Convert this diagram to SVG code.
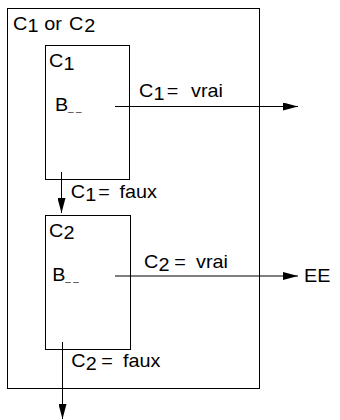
<svg xmlns="http://www.w3.org/2000/svg" width="340" height="420" viewBox="0 0 340 420">
<style>
.box{fill:none;stroke:#000;stroke-width:1}
.ln{stroke:#000;stroke-width:1;fill:none;marker-end:url(#ah)}
text{font-family:"Liberation Sans",Arial,Helvetica,sans-serif;font-size:18px;fill:#000}
.us{font-size:9px}
</style>
<defs>
<marker id="ah" markerUnits="userSpaceOnUse" markerWidth="15" markerHeight="8" refX="15" refY="4" orient="auto">
<path d="M0,0 L15,4 L0,8 Z" fill="#000"/>
</marker>
</defs>
<rect width="340" height="420" fill="#fff"/>
<g id="outer">
<rect class="box" x="7.5" y="8.5" width="252" height="380"/>
<text transform="scale(1.1,1)"><tspan x="11.82" y="30">C</tspan><tspan x="25" y="32.5">1</tspan><tspan x="40.18" y="30">or</tspan><tspan x="62.73" y="30">C</tspan><tspan x="76.5" y="32.5">2</tspan></text>
</g>
<g id="c1">
<rect class="box" x="45.5" y="45.5" width="84" height="134"/>
<text transform="scale(1.1,1)"><tspan x="44.55" y="67.5">C</tspan><tspan x="57.7" y="70">1</tspan></text>
<text transform="scale(1.1,1)"><tspan x="50" y="111">B</tspan><tspan class="us" x="61.8" y="111">_</tspan><tspan class="us" x="69.1" y="111">_</tspan></text>
</g>
<g id="c2">
<rect class="box" x="45.5" y="215.5" width="85" height="134"/>
<text transform="scale(1.1,1)"><tspan x="44.55" y="237">C</tspan><tspan x="57.7" y="239.5">2</tspan></text>
<text transform="scale(1.1,1)"><tspan x="47.5" y="281">B</tspan><tspan class="us" x="59.3" y="281">_</tspan><tspan class="us" x="66.6" y="281">_</tspan></text>
</g>
<g id="ee">
<text transform="scale(1.1,1)" x="276.4" y="282">EE</text>
</g>
<g id="connectors">
<line class="ln" x1="115" y1="106.5" x2="298" y2="106.5"/>
<text transform="scale(1.1,1)"><tspan x="126.36" y="97.3">C</tspan><tspan x="139.5" y="99.8">1</tspan><tspan x="151.5" y="97.3">=</tspan><tspan x="173.64" y="97.3">vrai</tspan></text>
<line class="ln" x1="61.5" y1="172" x2="61.5" y2="213"/>
<text transform="scale(1.1,1)"><tspan x="64.27" y="198.3">C</tspan><tspan x="77.4" y="200.8">1</tspan><tspan x="89.3" y="198.3">=</tspan><tspan x="108.64" y="198.3">faux</tspan></text>
<line class="ln" x1="115" y1="276" x2="298" y2="276"/>
<text transform="scale(1.1,1)"><tspan x="130.9" y="268.3">C</tspan><tspan x="144" y="270.8">2</tspan><tspan x="158.5" y="268.3">=</tspan><tspan x="178.18" y="268.3">vrai</tspan></text>
<line class="ln" x1="62.5" y1="342" x2="62.5" y2="419"/>
<text transform="scale(1.1,1)"><tspan x="64.82" y="367.3">C</tspan><tspan x="78" y="369.8">2</tspan><tspan x="92" y="367.3">=</tspan><tspan x="111.82" y="367.3">faux</tspan></text>
</g>
</svg>
